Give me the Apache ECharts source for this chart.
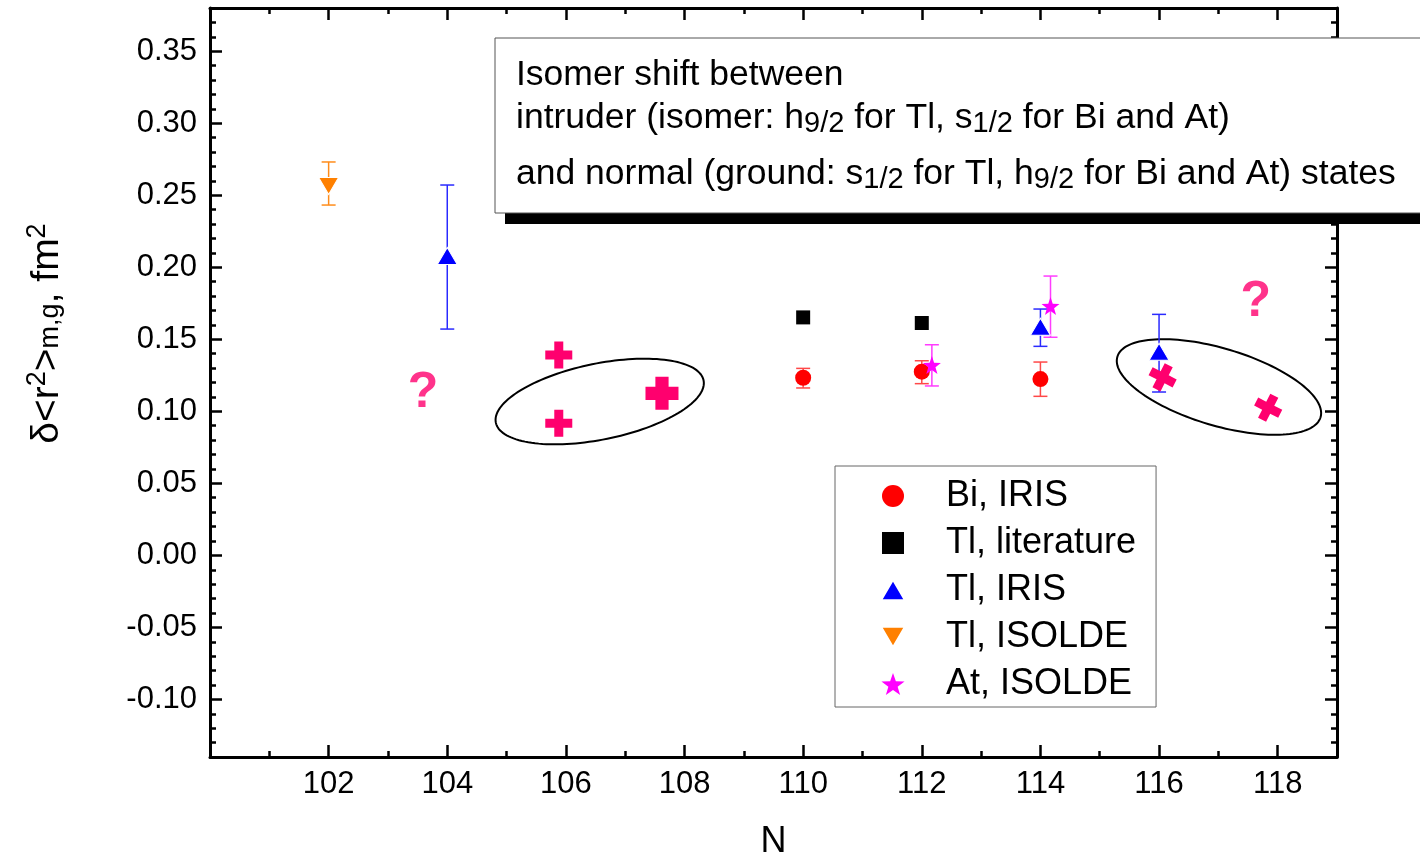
<!DOCTYPE html>
<html><head><meta charset="utf-8">
<script src="https://cdn.jsdelivr.net/npm/echarts@6/dist/echarts.min.js"></script>
<style>html,body{margin:0;padding:0;background:#fff}#c{width:1420px;height:858px}</style>
</head><body><div id="c"></div>
<script>
// ---------- data ----------
const xRange = [100, 119];
const yRange = [-0.14, 0.38];
const xMajorTicks = [102, 104, 106, 108, 110, 112, 114, 116, 118];
const yMajorTicks = [-0.10, -0.05, 0.00, 0.05, 0.10, 0.15, 0.20, 0.25, 0.30, 0.35];

const seriesNames = ['Bi, IRIS', 'Tl, literature', 'Tl, IRIS', 'Tl, ISOLDE', 'At, ISOLDE'];

const biIris      = [[110, 0.1233], [112, 0.1275], [114, 0.1224]];
const biIrisErr   = [[0.1162, 0.1298], [0.1192, 0.1351], [0.1104, 0.1342]];
const tlLit       = [[110, 0.1652], [112, 0.1613]];
const tlIris      = [[104, 0.2078], [114, 0.1587], [116, 0.1414]];
const tlIrisErr   = [[0.1571, 0.2571], [0.1451, 0.1710], [0.1134, 0.1673]];
const tlIsolde    = [[102, 0.2564]];
const tlIsoldeErr = [[0.2432, 0.2731]];
const atIsolde    = [[112.17, 0.1321], [114.17, 0.1731]];
const atIsoldeErr = [[0.1176, 0.1462], [0.1514, 0.1939]];

const plusMarks    = [[105.88, 0.1391], [105.88, 0.0917]];
const bigPlusMarks = [[107.62, 0.1125]];
const crossMarks   = [[116.06, 0.1236], [117.84, 0.1025]];
const questionMarks = [[103.59, 0.1127], [117.63, 0.1754]];
const ellipseCenters = [[106.57, 0.1068], [117.01, 0.1169]];

// ---------- styles ----------
const FONT = "'Liberation Sans', Arial, sans-serif";
const PINK = '#ff006e';
const STAR = 'path://M0,-10 L2.35,-3.24 L9.51,-3.09 L3.8,1.24 L5.88,8.09 L0,4 L-5.88,8.09 L-3.8,1.24 L-9.51,-3.09 L-2.35,-3.24 Z';
const UP_TRI = 'path://M5,0 L10,8.6 L0,8.6 Z';
const DOWN_TRI = 'path://M0,0 L10,0 L5,8.6 Z';
const SQUARE = 'path://M0,0 L10,0 L10,10 L0,10 Z';
const PLUS = 'path://M-1,-3 L1,-3 L1,-1 L3,-1 L3,1 L1,1 L1,3 L-1,3 L-1,1 L-3,1 L-3,-1 L-1,-1 Z';
const BIG_PLUS = 'path://M-2,-5 L2,-5 L2,-2 L5,-2 L5,2 L2,2 L2,5 L-2,5 L-2,2 L-5,2 L-5,-2 L-2,-2 Z';
const ELLIPSE_SHAPES = [{a: 106, b: 38, tilt: 11.5}, {a: 106, b: 38.6, tilt: -16.6}];

function withErr(pts, err) { return pts.map((p, i) => [p[0], err[i][0], err[i][1]]); }

function errRender(params, api) {
  const x = api.value(0);
  const lo = api.coord([x, api.value(1)]);
  const hi = api.coord([x, api.value(2)]);
  const w = 7;
  const st = {stroke: api.visual('color'), lineWidth: 1.5};
  return {type: 'group', children: [
    {type: 'line', shape: {x1: lo[0], y1: lo[1], x2: hi[0], y2: hi[1]}, style: st},
    {type: 'line', shape: {x1: lo[0] - w, y1: lo[1], x2: lo[0] + w, y2: lo[1]}, style: st},
    {type: 'line', shape: {x1: hi[0] - w, y1: hi[1], x2: hi[0] + w, y2: hi[1]}, style: st}
  ]};
}
function ellipseRender(params, api) {
  const c = api.coord([api.value(0), api.value(1)]);
  const sh = ELLIPSE_SHAPES[params.dataIndex];
  const th = sh.tilt * Math.PI / 180;
  const pts = [];
  for (let i = 0; i < 144; i++) {
    const t = i / 144 * 2 * Math.PI;
    pts.push([
      c[0] + sh.a * Math.cos(th) * Math.cos(t) - sh.b * Math.sin(th) * Math.sin(t),
      c[1] - (sh.a * Math.sin(th) * Math.cos(t) + sh.b * Math.cos(th) * Math.sin(t))
    ]);
  }
  return {type: 'polygon', shape: {points: pts}, style: {fill: 'none', stroke: '#000', lineWidth: 2}};
}
function errSeries(pts, err, color) {
  return {type: 'custom', renderItem: errRender, data: withErr(pts, err),
    encode: {x: 0, y: [1, 2]}, itemStyle: {color: color}, z: 2, silent: true};
}

const axLine = {onZero: false, lineStyle: {color: '#000', width: 3}};
function xAx(pos, major, labels) {
  return {type: 'value', min: xRange[0], max: xRange[1], position: pos,
    interval: major ? undefined : 1,
    splitLine: {show: false},
    axisLine: major ? axLine : {show: false, onZero: false},
    axisTick: major ? {inside: true, length: 12, lineStyle: {color: '#000', width: 2.5}, customValues: xMajorTicks}
                    : {inside: true, length: 6, lineStyle: {color: '#000', width: 2.5}},
    axisLabel: labels ? {show: true, customValues: xMajorTicks, fontSize: 31, fontFamily: FONT, color: '#000', margin: 12,
                         formatter: v => String(v)} : {show: false},
    name: labels ? 'N' : '', nameLocation: 'middle', nameGap: 67,
    nameTextStyle: {fontSize: 36, fontFamily: FONT, color: '#000'}
  };
}
function yAx(pos, major, labels) {
  return {type: 'value', min: yRange[0], max: yRange[1], position: pos,
    interval: major ? undefined : 0.01,
    splitLine: {show: false},
    axisLine: major ? axLine : {show: false, onZero: false},
    axisTick: major ? {inside: true, length: 12, lineStyle: {color: '#000', width: 2.5}, customValues: yMajorTicks}
                    : {inside: true, length: 6, lineStyle: {color: '#000', width: 2.5}},
    axisLabel: labels ? {show: true, customValues: yMajorTicks, fontSize: 31, fontFamily: FONT, color: '#000', margin: 13,
                         formatter: v => v.toFixed(2)} : {show: false},
    name: labels ? '{n|δ<r}{p|2}{n|>}{s|m,g}{n|, fm}{p|2}' : '',
    nameLocation: 'middle', nameGap: 146, nameRotate: 90,
    nameTextStyle: {fontFamily: FONT, color: '#000', padding: [0, 0, 0, 98], rich: {
      n: {fontSize: 39, lineHeight: 40, padding: [4, 0, 12, 0], verticalAlign: 'top', fontFamily: FONT, color: '#000'},
      p: {fontSize: 27, lineHeight: 27, verticalAlign: 'top', fontFamily: FONT, color: '#000'},
      s: {fontSize: 27, lineHeight: 27, verticalAlign: 'bottom', fontFamily: FONT, color: '#000'}
    }}
  };
}

const boxRich = {
  n: {fontSize: 35.5, lineHeight: 38, padding: [0, 0, 9, 0], verticalAlign: 'top', fontFamily: FONT, color: '#000'},
  s: {fontSize: 29, lineHeight: 28, verticalAlign: 'bottom', fontFamily: FONT, color: '#000'}
};
function boxText(y, txt) {
  return {type: 'text', x: 516, y: y, z: 102,
    style: {text: txt, align: 'left', verticalAlign: 'top', fill: '#000', fontSize: 35.5, fontFamily: FONT, rich: boxRich}};
}

const chart = echarts.init(document.getElementById('c'), null, {renderer: 'canvas'});
chart.setOption({
  animation: false,
  backgroundColor: '#fff',
  grid: {left: 210, right: 83, top: 8, bottom: 101, containLabel: false, outerBoundsMode: 'none'},
  xAxis: [xAx('bottom', true, true), xAx('bottom', false, false), xAx('top', true, false), xAx('top', false, false)],
  yAxis: [yAx('left', true, true), yAx('left', false, false), yAx('right', true, false), yAx('right', false, false)],
  legend: {
    data: [
      {name: seriesNames[0], icon: 'circle'},
      {name: seriesNames[1], icon: SQUARE},
      {name: seriesNames[2], icon: UP_TRI},
      {name: seriesNames[3], icon: DOWN_TRI},
      {name: seriesNames[4], icon: STAR}
    ],
    orient: 'vertical', left: 835, top: 466,
    itemWidth: 24, itemHeight: 22, itemGap: 7,
    padding: [10, 20, 3, 45],
    borderColor: '#666', borderWidth: 1, backgroundColor: '#fff',
    selectedMode: false,
    textStyle: {fontSize: 36, lineHeight: 40, padding: [0, 0, 0, 36], fontFamily: FONT, color: '#000'}
  },
  series: [
    {type: 'custom', renderItem: ellipseRender, data: ellipseCenters, encode: {x: 0, y: 1}, z: 1, silent: true},
    errSeries(biIris, biIrisErr, '#ff4848'),
    errSeries(tlIris, tlIrisErr, '#2a2aff'),
    errSeries(tlIsolde, tlIsoldeErr, '#ff8c1a'),
    errSeries(atIsolde, atIsoldeErr, '#ff3cff'),
    {name: seriesNames[0], type: 'scatter', data: biIris, symbol: 'circle', symbolSize: 16,
      itemStyle: {color: '#ff0000', opacity: 1}, z: 3},
    {name: seriesNames[1], type: 'scatter', data: tlLit, symbol: SQUARE, symbolSize: 14,
      itemStyle: {color: '#000000', opacity: 1}, z: 3},
    {name: seriesNames[2], type: 'scatter', data: tlIris, symbol: UP_TRI, symbolSize: [20, 17],
      itemStyle: {color: '#0000ff', opacity: 1, borderColor: '#fff', borderWidth: 1}, z: 3},
    {name: seriesNames[3], type: 'scatter', data: tlIsolde, symbol: DOWN_TRI, symbolSize: [20, 17],
      itemStyle: {color: '#ff8000', opacity: 1, borderColor: '#fff', borderWidth: 1}, z: 3},
    {name: seriesNames[4], type: 'scatter', data: atIsolde, symbol: STAR, symbolSize: 18,
      itemStyle: {color: '#ff00ff', opacity: 1}, z: 3},
    {type: 'scatter', data: plusMarks, symbol: PLUS, symbolSize: 27, itemStyle: {color: PINK, opacity: 1}, z: 3, silent: true},
    {type: 'scatter', data: bigPlusMarks, symbol: BIG_PLUS, symbolSize: 33, itemStyle: {color: PINK, opacity: 1}, z: 3, silent: true},
    {type: 'scatter', data: crossMarks, symbol: PLUS, symbolSize: 27, symbolRotate: -27, itemStyle: {color: PINK, opacity: 1}, z: 3, silent: true},
    {type: 'scatter', data: questionMarks, symbol: 'circle', symbolSize: 1, itemStyle: {color: 'rgba(0,0,0,0)'}, z: 3, silent: true,
      label: {show: true, position: 'inside', formatter: '?', fontSize: 50, fontWeight: 'bold', fontFamily: FONT, color: PINK}}
  ],
  graphic: [
    {type: 'rect', z: 100, shape: {x: 505, y: 48, width: 1000, height: 176}, style: {fill: '#000'}},
    {type: 'rect', z: 101, shape: {x: 495, y: 38, width: 1000, height: 175}, style: {fill: '#fff', stroke: '#555', lineWidth: 1}},
    boxText(57, '{n|Isomer shift between}'),
    boxText(100, '{n|intruder (isomer: h}{s|9/2}{n| for Tl, s}{s|1/2}{n| for Bi and At)}'),
    boxText(156, '{n|and normal (ground: s}{s|1/2}{n| for Tl, h}{s|9/2}{n| for Bi and At) states}')
  ]
});
</script></body></html>
